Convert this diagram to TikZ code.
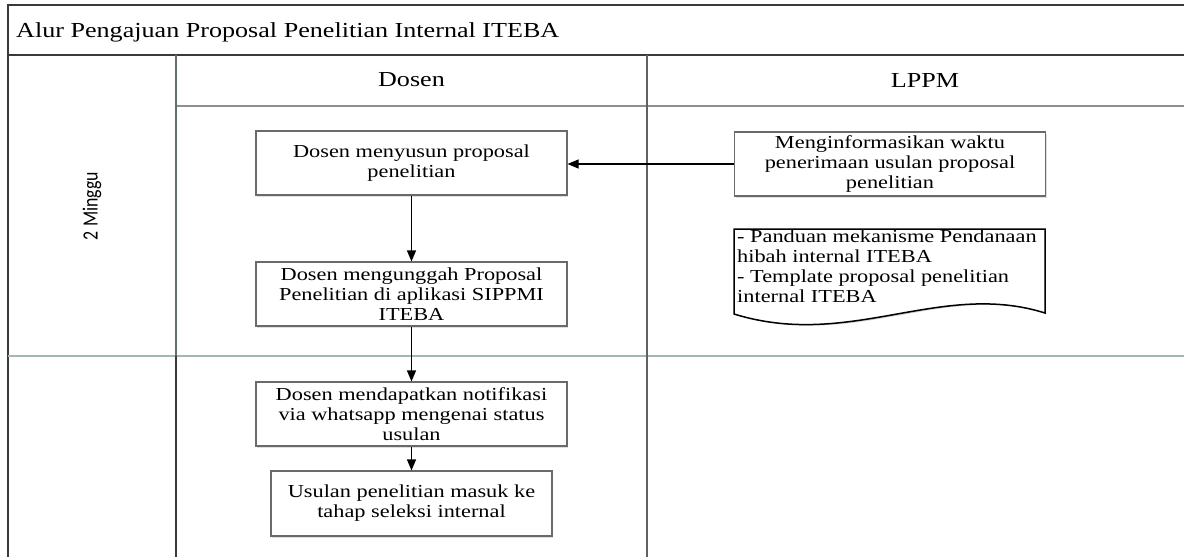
\documentclass[tikz,border=0pt]{standalone}
\usepackage{fontspec}
\setmainfont{Liberation Serif}[FakeStretch=1.22]
\newfontfamily\sansf{Carlito}
\usetikzlibrary{arrows.meta,shadows}
\definecolor{framedark}{HTML}{3A3A3A}
\definecolor{headline}{HTML}{8E8E8E}
\definecolor{phaseline}{HTML}{A3B7AF}
\definecolor{boxline}{HTML}{6A6A6A}
\tikzset{
  stepbox/.style={draw=boxline, line width=1.1pt, fill=white, align=center, inner sep=2pt,
    font=\fontsize{18.3pt}{20pt}\selectfont, text=black,
    drop shadow={shadow xshift=1.2pt, shadow yshift=-1.5pt, opacity=0.25}},
  arr/.style={draw=black, line width=1.1pt, -{Triangle[length=11pt,width=9pt]}},
  frame/.style={draw=framedark, line width=1.4pt},
  lanetitle/.style={font=\fontsize{21.4pt}{24pt}\selectfont, text=black, inner sep=0pt}
}
\begin{document}
\begin{tikzpicture}[x=1pt, y=-1pt]
\useasboundingbox (0,0) rectangle (1184,557);
\clip (0,0) rectangle (1184,557);
\fill[white] (0,0) rectangle (1184,557);
% frame
\draw[frame] (8,557) -- (8,5) -- (1200,5);
\draw[frame] (8,55) -- (1200,55);
\draw[headline, line width=1.1pt] (176,106) -- (1200,106);
\draw[phaseline, line width=1.4pt] (8,356) -- (1200,356);
\draw[draw=phaseline!60!black, line width=1.1pt] (176,55) -- (176,356);
\draw[draw=framedark, line width=1.1pt] (176,356) -- (176,560);
\draw[draw=framedark!80, line width=1.1pt] (647,55) -- (647,560);
% titles
\node[lanetitle, anchor=west] (title) at (16,32) {Alur Pengajuan Proposal Penelitian Internal ITEBA};
\node[lanetitle] (dosen) at (411.5,80) {Dosen};
\node[lanetitle] (lppm) at (925,80) {LPPM};
\node[rotate=90, inner sep=0pt] (phase) at (92,206) {\scalebox{1}[1.22]{\resizebox{68pt}{!}{\sansf\fontsize{18pt}{20pt}\selectfont 2 Minggu}}};
% steps
\node[stepbox, minimum width=311pt, minimum height=64pt] (b1) at (411.5,163) {Dosen menyusun proposal\\penelitian};
\node[stepbox, minimum width=311pt, minimum height=64pt] (b2) at (411.5,294) {Dosen mengunggah Proposal\\Penelitian di aplikasi SIPPMI\\ITEBA};
\node[stepbox, minimum width=311pt, minimum height=64pt] (b3) at (411.5,414) {Dosen mendapatkan notifikasi\\via whatsapp mengenai status\\usulan};
\node[stepbox, minimum width=281pt, minimum height=65pt] (b4) at (411.5,503.5) {Usulan penelitian masuk ke\\tahap seleksi internal};
\node[stepbox, minimum width=311pt, minimum height=64pt] (info) at (890,164) {Menginformasikan waktu\\penerimaan usulan proposal\\penelitian};
% document
\coordinate (dtl) at (734,229);
\coordinate (dtr) at (1045,229);
\coordinate (dbr) at (1045,313);
\coordinate (dbl) at (734,314);
\fill[black, opacity=0.18, xshift=1.5pt, yshift=-2pt] (dtl) -- (dtr) -- (dbr) .. controls (940,280) and (850,350) .. (dbl) -- cycle;
\draw[black, line width=1.5pt, fill=white] (dtl) -- (dtr) -- (dbr) .. controls (940,280) and (850,350) .. (dbl) -- cycle;
\node[anchor=west, align=left, inner sep=0pt, font=\fontsize{18.3pt}{20pt}\selectfont] (doc) at (737,266) {- Panduan mekanisme Pendanaan\\hibah internal ITEBA\\- Template proposal penelitian\\internal ITEBA};
% connectors
\draw[arr] (info.west) -- (info.west -| b1.east);
\draw[arr] (b1.south) -- (b2.north);
\draw[arr] (b2.south) -- (b3.north);
\draw[arr] (b3.south) -- (b4.north);
\end{tikzpicture}
\end{document}
